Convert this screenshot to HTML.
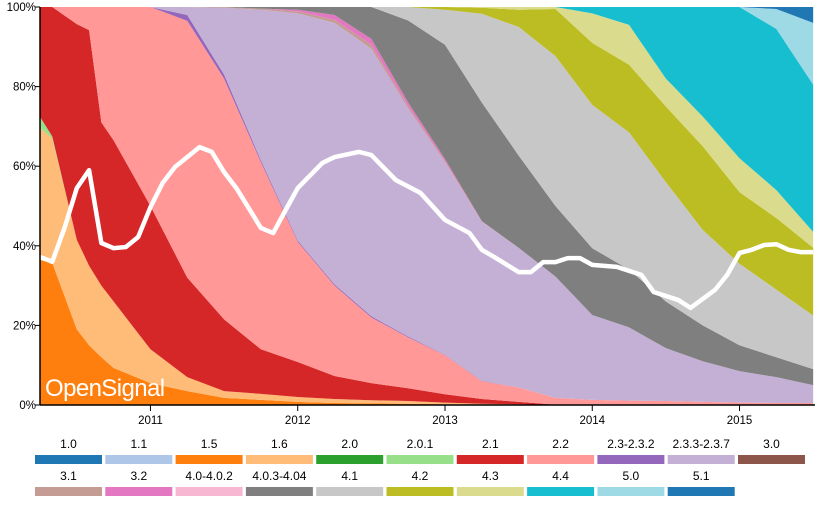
<!DOCTYPE html>
<html><head><meta charset="utf-8"><style>
body{margin:0;background:#fff;font-family:"Liberation Sans",Arial,sans-serif}
svg text{font-family:"Liberation Sans",Arial,sans-serif}
</style></head><body>
<svg id="chart" width="821" height="502" xmlns="http://www.w3.org/2000/svg">
<g id="areas"></g>
<g id="line"></g>
<text x="45" y="396" fill="#fff" font-size="24" letter-spacing="-0.6">OpenSignal</text>
<g id="axes"></g>
<g id="legend"></g>
</svg>
<script>
const months = [0,1,3,4,5,6,9,12,15,18,21,24,27,30,33,36,39,42,45,48,51,54,57,60,63];
const versions = ["1.0","1.1","1.5","1.6","2.0","2.0.1","2.1","2.2","2.3-2.3.2","2.3.3-2.3.7","3.0","3.1","3.2","4.0-4.0.2","4.0.3-4.04","4.1","4.2","4.3","4.4","5.0","5.1"];
const colors = ["#1f77b4","#aec7e8","#ff7f0e","#ffbb78","#2ca02c","#98df8a","#d62728","#ff9896","#9467bd","#c5b0d5","#8c564b","#c49c94","#e377c2","#f7b6d2","#7f7f7f","#c7c7c7","#bcbd22","#dbdb8d","#17becf","#9edae5","#1f77b4"];
const v10  = [0,0,0,0,0,0,0,0,0,0,0,0,0,0,0,0,0,0,0,0,0,0,0,0,0];
const v11  = [0,0,0,0,0,0,0,0,0,0,0,0,0,0,0,0,0,0,0,0,0,0,0,0,0];
const v15  = [36.4,35.7,19,15,12,9.3,5.5,3.5,1.8,1.3,0.8,0.5,0.4,0.3,0.2,0.1,0.1,0,0,0,0,0,0,0,0];
const v16  = [33.2,31.3,22.5,20,18,16.7,8.5,3.5,1.7,1.5,1.2,1.0,0.8,0.7,0.4,0.2,0.1,0,0,0,0,0,0,0,0];
const v20  = [0,0,0,0,0,0,0,0,0,0,0,0,0,0,0,0,0,0,0,0,0,0,0,0,0];
const v201 = [2.8,0.5,0,0,0,0,0,0,0,0,0,0,0,0,0,0,0,0,0,0,0,0,0,0,0];
const v21  = [27.6,32.5,54.2,59.2,41,40.5,36,25,18,11.2,8.8,5.8,4.3,3.2,2.1,1.2,0.6,0.1,0,0,0,0,0,0,0];
const v22  = [0,0,4.3,5.8,29,33.5,50,64.5,60.5,47,30.2,22.7,16.5,12.8,9.8,4.5,3.6,1.7,1.3,1.1,1.0,0.8,0.6,0.5,0.5];
const v23a = [0,0,0,0,0,0,0,1.5,1,0.5,0.3,0.3,0.3,0.2,0.1,0.1,0,0,0,0,0,0,0,0,0];
const v23b = [0,0,0,0,0,0,0,2,16.8,37.8,57.1,65.7,67.2,57.3,48.4,39.9,35.1,30.5,21.3,18.4,13.3,10.2,7.9,6.5,4.5];
const v30  = [0,0,0,0,0,0,0,0,0,0,0,0,0,0,0,0,0,0,0,0,0,0,0,0,0];
const v31  = [0,0,0,0,0,0,0,0,0.2,0.3,0.5,0.8,1,0.6,0.3,0.1,0,0,0,0,0,0,0,0,0];
const v32  = [0,0,0,0,0,0,0,0,0,0,0.4,1.2,1.5,0.9,0.5,0.1,0,0,0,0,0,0,0,0,0];
const v40a = [0,0,0,0,0,0,0,0,0,0,0,0,0,0,0,0,0,0,0,0,0,0,0,0,0];
const v40b = [0,0,0,0,0,0,0,0,0,0.4,0.7,2,8,20.6,28.7,29.8,23.2,17.7,16.8,14.5,11.7,9,6.5,5,4];
const v41  = [0,0,0,0,0,0,0,0,0,0,0,0,0,3.4,8.8,22.3,32.3,37.7,36,34.5,30,24,20.5,17,13.5];
const v42  = [0,0,0,0,0,0,0,0,0,0,0,0,0,0,0.7,1.5,4.3,11.8,15.6,17,19,21,18,18,17];
const v43  = [0,0,0,0,0,0,0,0,0,0,0,0,0,0,0,0.2,0.7,0.5,7.4,10,7,7.5,8.5,7,4];
const v44  = [0,0,0,0,0,0,0,0,0,0,0,0,0,0,0,0,0,0,1.6,4.5,18,27.5,38,40.5,37];
const v50  = [0,0,0,0,0,0,0,0,0,0,0,0,0,0,0,0,0,0,0,0,0,0,0,5,15.5];
const v51  = [0,0,0,0,0,0,0,0,0,0,0,0,0,0,0,0,0,0,0,0,0,0,0,0.5,4];
const series = [v10,v11,v15,v16,v20,v201,v21,v22,v23a,v23b,v30,v31,v32,v40a,v40b,v41,v42,v43,v44,v50,v51];
const lineMonths = [0,1,2,3,4,5,6,7,8,9,10,11,13,14,15,16,17,18,19,20,21,23,24,26,27,29,31,33,35,36,37,39,40,41,42,43,44,45,47,49,50,52,53,55,56,57,58,59,60,61,62,63];
const lineValues = [37.2,36,44.5,54.5,59,40.7,39.4,39.7,42.2,49.7,55.8,59.8,64.8,63.6,58.5,54.5,49.5,44.5,43.2,48.9,54.5,60.8,62.3,63.6,62.8,56.5,53.3,46.5,43.2,39,37.2,33.4,33.4,35.9,35.9,36.9,36.9,35.2,34.7,32.7,28.4,26.4,24.4,28.9,32.7,38.2,39,40.2,40.4,39,38.4,38.4];
const yTicks = [0,20,40,60,80,100];
const xTickLabels = ["2011","2012","2013","2014","2015"];
const xTickMonths = [9,21,33,45,57];

const NS="http://www.w3.org/2000/svg";
const X0=40,X1=815,Y0=405,Y1=7;
function xs(m){return X0+(m-0)/(63.15)*(X1-X0);}
function ys(v){return Y0-(v/100)*(Y0-Y1);}
function mk(tag,attrs,parent){const e=document.createElementNS(NS,tag);for(const k in attrs)e.setAttribute(k,attrs[k]);parent.appendChild(e);return e;}

const n=months.length;
const totals=months.map((_,i)=>series.reduce((s,a)=>s+a[i],0));
let base=new Array(n).fill(0);
const areasG=document.getElementById('areas');
series.forEach((arr,si)=>{
  const top=base.map((b,i)=>b+arr[i]/totals[i]*100);
  if(arr.some(v=>v>0)){
    let d="M"+months.map((m,i)=>xs(m).toFixed(2)+","+ys(top[i]).toFixed(2)).join("L");
    for(let i=n-1;i>=0;i--)d+="L"+xs(months[i]).toFixed(2)+","+ys(base[i]).toFixed(2);
    d+="Z";
    const p=mk('path',{d:d,fill:colors[si]},areasG);
    
    
  }
  base=top;
});
const lg=document.getElementById('line');
const lp=mk('path',{d:"M"+lineMonths.map((m,i)=>xs(m).toFixed(2)+","+ys(lineValues[i]).toFixed(2)).join("L"),fill:"none",stroke:"#fff","stroke-width":4.5,"stroke-linejoin":"round"},lg);


const ax=document.getElementById('axes');
const yl=mk('line',{x1:X0,x2:X0,y1:Y1,y2:Y0,stroke:"#000","stroke-width":1.5},ax);


const xl=mk('line',{x1:X0,x2:X1,y1:Y0,y2:Y0,stroke:"#000","stroke-width":1.5},ax);


yTicks.forEach(v=>{
  const y=ys(v);
  mk('line',{x1:X0-5,x2:X0,y1:y,y2:y,stroke:"#000"},ax);
  const t=mk('text',{x:X0-4,y:y+4,"text-anchor":"end","font-size":11.5,fill:"#000"},ax);
  t.textContent=v+"%";
  
  
});
xTickMonths.forEach((m,i)=>{
  const x=xs(m);
  mk('line',{x1:x,x2:x,y1:Y0,y2:Y0+6,stroke:"#000"},ax);
  const t=mk('text',{x:x,y:424,"text-anchor":"middle","font-size":11.5,fill:"#000"},ax);
  t.textContent=xTickLabels[i];
  
  
});
const leg=document.getElementById('legend');
versions.forEach((v,i)=>{
  const row=i<11?0:1, col=i<11?i:i-11;
  const x=35+col*70.3;
  const g=mk('g',{},leg);
  
  
  const r=mk('rect',{x:x,y:455+row*32,width:67,height:9,fill:colors[i]},g);
  
  
  const t=mk('text',{x:x+33.5,y:448+row*32,"text-anchor":"middle","font-size":12,fill:"#000"},g);
  t.textContent=v;
  
  
});
</script>
</body></html>
